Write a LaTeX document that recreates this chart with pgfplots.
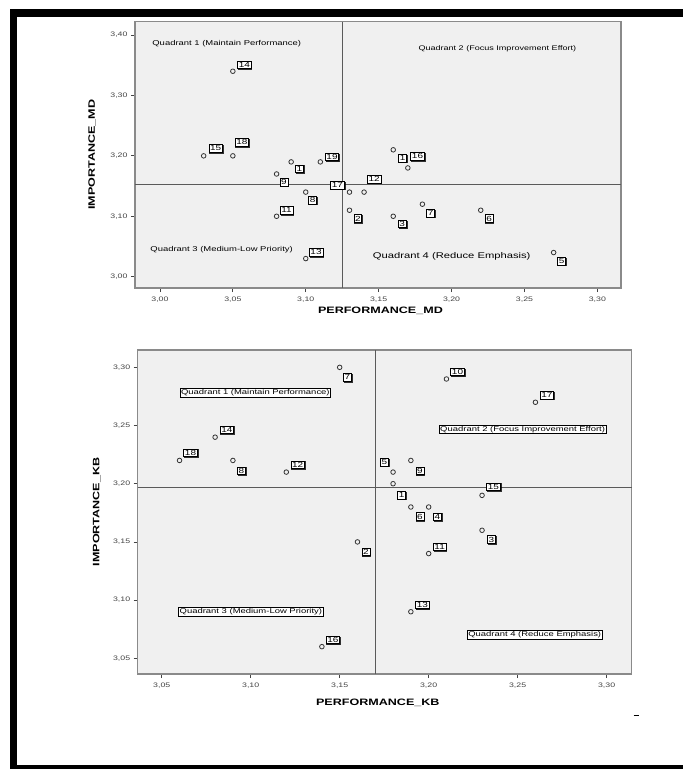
\documentclass[border=0pt]{standalone}
\usepackage{pgfplots}
\usepackage{pgfplotstable}
\pgfplotsset{compat=1.18}
\usetikzlibrary{shadows}
\usepackage{fontspec}
\setmainfont[FakeStretch=1.35]{Liberation Sans}
\definecolor{bgc}{HTML}{F0F0F0}
\definecolor{axc}{HTML}{8A8A8A}
\definecolor{linc}{HTML}{5A5A5A}
\definecolor{tickc}{HTML}{444444}
\definecolor{markc}{HTML}{333333}

\pgfplotstableread{
lab x y dx dy
14 3.05 3.34 11.6 6.7
15 3.03 3.20 12 7.4
18 3.05 3.20 9 13.4
1 3.09 3.19 8.3 -6.7
19 3.11 3.19 11.7 5
9 3.08 3.17 7.3 -8
17 3.13 3.14 -12 7
12 3.14 3.14 10 13
8 3.10 3.14 7 -8
11 3.08 3.10 10 6
13 3.10 3.03 10.3 6.3
2 3.13 3.11 8.3 -8.3
3 3.16 3.10 9 -7.7
7 3.18 3.12 8.3 -9
6 3.22 3.11 8.3 -8.3
5 3.27 3.04 8 -8.6
1 3.16 3.21 9.3 -8.4
16 3.17 3.18 9.7 11.7
}\topdata

\pgfplotstableread{
lab x y dx dy
7 3.15 3.30 7.6 -10
14 3.08 3.24 11.7 7.6
18 3.06 3.22 11 7.8
8 3.09 3.22 8.4 -10.2
12 3.12 3.21 11.3 7.5
10 3.21 3.29 11.1 7.1
17 3.26 3.27 11.5 7.2
5 3.18 3.21 -8.6 10
9 3.19 3.22 9 -10.5
1 3.18 3.20 8.7 -11.5
15 3.23 3.19 11.4 8.7
6 3.19 3.18 9 -9.6
4 3.20 3.18 8.7 -9.6
3 3.23 3.16 9.4 -9.3
11 3.20 3.14 11 6.7
2 3.16 3.15 8.4 -10
13 3.19 3.09 11.5 6.8
16 3.14 3.06 11 6.7
}\botdata

\pgfplotsset{
  quad/.style={
    scale only axis,
    clip=false,
    axis background/.style={fill=bgc},
    axis line style={draw=axc, line width=1.2pt},
    tick align=outside,
    xtick pos=left, ytick pos=left,
    major tick length=4pt,
    tick style={draw=tickc, line width=0.8pt},
    xticklabel style={font=\fontsize{6.5}{7}\selectfont, text=tickc, yshift=-1pt},
    yticklabel style={font=\fontsize{6.5}{7}\selectfont, text=tickc},
    /pgf/number format/.cd, use comma, fixed, fixed zerofill, precision=2, assume math mode=true,
    /pgfplots/.cd,
    label style={font=\fontsize{9.3}{10}\selectfont\bfseries, text=black},
  },
  pts/.style={
    only marks, mark=o, mark size=2.3pt,
    mark options={draw=markc, line width=0.8pt},
    nodes near coords, point meta=explicit symbolic,
    visualization depends on={\thisrow{dx}\as\labdx},
    visualization depends on={\thisrow{dy}\as\labdy},
    every node near coord/.append style={anchor=center, xshift=\labdx, yshift=\labdy,
      draw=black, fill=white, inner sep=1.2pt, line width=0.6pt,
      drop shadow={shadow xshift=0.6pt, shadow yshift=-0.8pt, fill=gray, opacity=0.8},
      font=\fontsize{7.4}{7.4}\selectfont, text=black},
  },
}

\begin{document}
\begin{tikzpicture}[x=1pt,y=1pt]
\useasboundingbox (0,0) rectangle (683,-769);
\fill[white] (0,0) rectangle (683,-769);
% outer frame
\fill[black] (10,-9) rectangle (683,-16.5);
\fill[black] (10,-9) rectangle (17,-769);
\fill[black] (10,-765) rectangle (683,-769);
\draw[black, line width=1pt] (633.5,-715) -- (638.5,-715);

% top chart
\begin{axis}[quad,
  at={(135pt,-288pt)}, anchor=south west,
  width=486pt, height=266.3pt,
  xmin=2.9829, xmax=3.3162, ymin=2.9813, ymax=3.422,
  xtick={3.00,3.05,3.10,3.15,3.20,3.25,3.30},
  ytick={3.00,3.10,3.20,3.30,3.40},
  xlabel={PERFORMANCE\_MD}, ylabel={IMPORTANCE\_MD},
  xlabel style={at={(axis description cs:0.505,-0.0864)}, anchor=center},
  ylabel style={at={(axis description cs:-0.088,0.5)}, anchor=center, rotate=0},
]
\addplot[draw=linc, line width=1pt] coordinates {(3.125,2.9813) (3.125,3.422)};
\addplot[draw=linc, line width=1pt] coordinates {(2.9829,3.1534) (3.3162,3.1534)};
\addplot[pts] table[x=x, y=y, meta=lab] {\topdata};
\node[font=\fontsize{7}{8}\selectfont] at (axis cs:3.0458,3.386) {Quadrant 1 (Maintain Performance)};
\node[font=\fontsize{6.7}{8}\selectfont] at (axis cs:3.2314,3.377) {Quadrant 2 (Focus Improvement Effort)};
\node[font=\fontsize{7}{8}\selectfont] at (axis cs:3.0423,3.044) {Quadrant 3 (Medium-Low Priority)};
\node[font=\fontsize{8.3}{9}\selectfont] at (axis cs:3.2001,3.033) {Quadrant 4 (Reduce Emphasis)};
\end{axis}

% bottom chart
\begin{axis}[quad,
  at={(137.7pt,-674pt)}, anchor=south west,
  width=494pt, height=324pt,
  xmin=3.0365, xmax=3.3141, ymin=3.0365, ymax=3.3149,
  xtick={3.05,3.10,3.15,3.20,3.25,3.30},
  ytick={3.05,3.10,3.15,3.20,3.25,3.30},
  xlabel={PERFORMANCE\_KB}, ylabel={IMPORTANCE\_KB},
  xlabel style={at={(axis description cs:0.486,-0.0895)}, anchor=center},
  ylabel style={at={(axis description cs:-0.083,0.5)}, anchor=center, rotate=0},
]
\addplot[draw=linc, line width=1pt] coordinates {(3.1703,3.0365) (3.1703,3.3149)};
\addplot[draw=linc, line width=1pt] coordinates {(3.0365,3.1969) (3.3141,3.1969)};
\addplot[pts] table[x=x, y=y, meta=lab] {\botdata};
\node[draw=black, fill=white, inner sep=1pt, line width=0.6pt, font=\fontsize{7}{8}\selectfont] at (axis cs:3.1026,3.278) {Quadrant 1 (Maintain Performance)};
\node[draw=black, fill=white, inner sep=1pt, line width=0.6pt, font=\fontsize{7}{8}\selectfont] at (axis cs:3.2528,3.2467) {Quadrant 2 (Focus Improvement Effort)};
\node[draw=black, fill=white, inner sep=1pt, line width=0.6pt, font=\fontsize{7}{8}\selectfont] at (axis cs:3.1001,3.09) {Quadrant 3 (Medium-Low Priority)};
\node[draw=black, fill=white, inner sep=1pt, line width=0.6pt, font=\fontsize{7}{8}\selectfont] at (axis cs:3.2596,3.07) {Quadrant 4 (Reduce Emphasis)};
\end{axis}
\end{tikzpicture}
\end{document}
